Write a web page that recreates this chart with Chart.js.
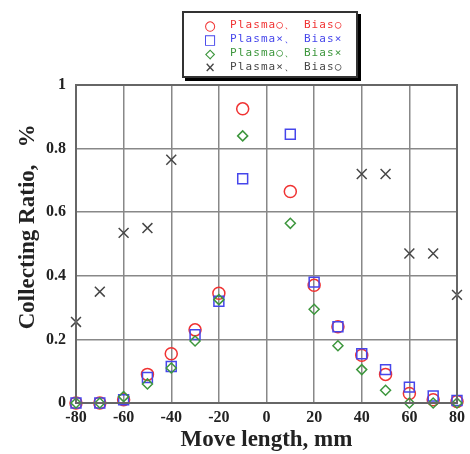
<!DOCTYPE html>
<html lang="en">
<head>
<meta charset="UTF-8">
<title>Collecting Ratio</title>
<script src="https://cdn.jsdelivr.net/npm/chart.js"></script>
<style>
  body { margin: 0; background: #fff; }
  #wrap { position: relative; width: 470px; height: 454px; }
  #legend {
    position: absolute; left: 182px; top: 11px; width: 172px; height: 63px;
    border: 2px solid #333; box-shadow: 3px 3px 0 #000; background: #fff;
    font-family: "DejaVu Sans Mono", monospace; font-size: 11px;
  }
  #legend .row { position: absolute; left: 0; height: 14px; line-height: 14px; white-space: nowrap; }
  #legend .sym { position: absolute; left: 17px; width: 18px; text-align: center; font-size: 17px; }
  #legend .txt { position: absolute; left: 46px; letter-spacing: 1.1px; }
</style>
</head>
<body>
<div id="wrap">
  <canvas id="chart" width="470" height="454"></canvas>
  <div id="legend"></div>
</div>
<script>
// move length (mm) for the first three series
const moveLength = [-80, -70, -60, -50, -40, -30, -20, -10, 10, 20, 30, 40, 50, 60, 70, 80];
const plasmaO_biasO = [0, 0, 0.01, 0.09, 0.155, 0.23, 0.345, 0.925, 0.665, 0.37, 0.24, 0.15, 0.09, 0.03, 0.01, 0.005];
const plasmaX_biasX = [0, 0, 0.01, 0.08, 0.115, 0.215, 0.32, 0.705, 0.845, 0.38, 0.24, 0.155, 0.105, 0.05, 0.022, 0.008];
const plasmaO_biasX = [0, 0, 0.02, 0.06, 0.11, 0.195, 0.325, 0.84, 0.565, 0.295, 0.18, 0.105, 0.04, 0, 0, 0];
// the fourth series was only measured away from the centre
const moveLengthX = [-80, -70, -60, -50, -40, 40, 50, 60, 70, 80];
const plasmaX_biasO = [0.255, 0.35, 0.535, 0.55, 0.765, 0.72, 0.72, 0.47, 0.47, 0.34];

const xTicks = [-80, -60, -40, -20, 0, 20, 40, 60, 80];
const yTicks = [0, 0.2, 0.4, 0.6, 0.8, 1];

const series = [
  { label: 'Plasma○、 Bias○', xs: moveLength, ys: plasmaO_biasO, color: 'rgb(240,50,50)', style: 'circle', sym: '○', radius: 6 },
  { label: 'Plasma×、 Bias×', xs: moveLength, ys: plasmaX_biasX, color: 'rgb(70,70,235)', style: 'rect', sym: '□', radius: 7 },
  { label: 'Plasma○、 Bias×', xs: moveLength, ys: plasmaO_biasX, color: 'rgb(60,150,60)', style: 'rectRot', sym: '◇', radius: 5 },
  { label: 'Plasma×、 Bias○', xs: moveLengthX, ys: plasmaX_biasO, color: 'rgb(70,70,70)', style: 'cross', sym: '×', radius: 7 }
];

// html legend
const legend = document.getElementById('legend');
series.forEach((s, i) => {
  const row = document.createElement('div');
  row.className = 'row';
  row.style.top = (5 + i * 14) + 'px';
  row.style.color = s.color;
  row.innerHTML = '<span class="sym">' + s.sym + '</span><span class="txt">' + s.label + '</span>';
  legend.appendChild(row);
});

const frame = {
  id: 'frame',
  afterDatasetsDraw(chart) {
    const a = chart.chartArea, ctx = chart.ctx;
    ctx.save();
    ctx.strokeStyle = '#666';
    ctx.lineWidth = 2;
    ctx.strokeRect(a.left, a.top, a.right - a.left, a.bottom - a.top);
    ctx.restore();
  }
};

const serif = 'Liberation Serif, Times New Roman, serif';
const nb = '\u00A0';

new Chart(document.getElementById('chart'), {
  type: 'scatter',
  data: {
    datasets: series.map(s => ({
      label: s.label,
      data: s.xs.map((x, i) => ({ x: x, y: s.ys[i] })),
      pointStyle: s.style,
      radius: s.radius,
      rotation: s.style === 'cross' ? 45 : 0,
      borderColor: s.color,
      backgroundColor: 'rgba(0,0,0,0)',
      borderWidth: 1.5,
      clip: false
    })).reverse()
  },
  options: {
    responsive: false,
    animation: false,
    layout: { padding: { top: 85, right: 12, left: 0, bottom: 0 } },
    plugins: { legend: { display: false }, tooltip: { enabled: false } },
    scales: {
      x: {
        type: 'linear', min: -80, max: 80,
        afterBuildTicks: s => { s.ticks = xTicks.map(v => ({ value: v })); },
        afterFit: s => { s.height = 51; },
        grid: { color: '#888', lineWidth: 1.5, drawTicks: false },
        border: { color: '#666', width: 2 },
        ticks: { color: '#222', padding: 5, maxRotation: 0, font: { family: serif, size: 16, weight: 'bold' } },
        title: { display: true, text: 'Move length, mm', color: '#222', padding: { top: 0, bottom: 0 },
                 font: { family: serif, size: 23, weight: 'bold' } }
      },
      y: {
        type: 'linear', min: 0, max: 1,
        afterBuildTicks: s => { s.ticks = yTicks.map(v => ({ value: v })); },
        afterFit: s => { s.width = 76; },
        grid: { color: '#888', lineWidth: 1.5, drawTicks: false },
        border: { color: '#666', width: 2 },
        ticks: { color: '#222', padding: 10, font: { family: serif, size: 16, weight: 'bold' },
                 callback: v => String(+v.toFixed(1)) },
        title: { display: true, text: nb.repeat(6) + 'Collecting Ratio,' + nb.repeat(3) + '%', color: '#222',
                 padding: { top: 14, bottom: 0 },
                 font: { family: serif, size: 23, weight: 'bold' } }
      }
    }
  },
  plugins: [frame]
});
</script>
</body>
</html>
